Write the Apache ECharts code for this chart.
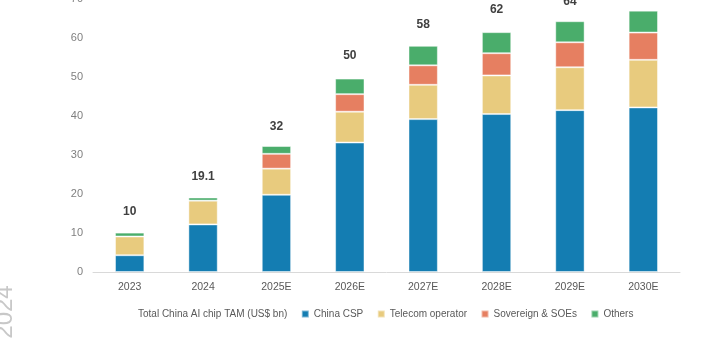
<!DOCTYPE html>
<html>
<head>
<meta charset="utf-8">
<script src="https://cdn.jsdelivr.net/npm/echarts@6/dist/echarts.min.js"></script>
<style>html,body{margin:0;padding:0;background:#fff;}#c{width:710px;height:340px;}</style>
</head>
<body>
<div id="c"></div>
<script>
const categories = ['2023', '2024', '2025E', '2026E', '2027E', '2028E', '2029E', '2030E'];
const chinaCSP   = [4.3, 12.2, 19.8, 33.2, 39.2, 40.5, 41.5, 42.2];
const telecom    = [4.8, 6.1, 6.7, 7.9, 8.8, 9.9, 11.0, 12.2];
const sovereign  = [0.0, 0.0, 3.8, 4.5, 5.0, 5.7, 6.4, 7.0];
const others     = [1.0, 0.8, 2.0, 4.0, 5.0, 5.4, 5.4, 5.6];
const totals     = [10, 19.1, 32, 50, 58, 62, 64, 67];
const totalLabels = ['10', '19.1', '32', '50', '58', '62', '64', '67'];
const yTicks = [0, 10, 20, 30, 40, 50, 60, 70];

const font = 'Liberation Sans, Arial, sans-serif';
const chart = echarts.init(document.getElementById('c'), null, {renderer: 'canvas'});
const barBorder = {borderColor: 'rgba(255,255,255,0.45)', borderWidth: 1};
function barSeries(name, data, color) {
  return {
    name: name, type: 'bar', stack: 'tam', data: data, barWidth: '40%',
    itemStyle: Object.assign({color: color}, barBorder),
    emphasis: {disabled: true}
  };
}
chart.setOption({
  animation: false,
  backgroundColor: '#ffffff',
  textStyle: {fontFamily: font},
  grid: {left: 93, right: 30, top: -1, bottom: 68, containLabel: false, outerBoundsMode: 'none'},
  graphic: [{
    type: 'text', rotation: Math.PI / 2,
    style: {text: '2024', fill: '#c8c8c8', font: '24px ' + font, textAlign: 'center', textVerticalAlign: 'middle'},
    x: 5, y: 312
  }],
  legend: {
    left: 126, top: 309, itemWidth: 7, itemHeight: 7, itemGap: 13.5, padding: 0,
    textStyle: {fontSize: 10, color: '#595959', fontFamily: font},
    data: [
      {name: 'Total China AI chip TAM (US$ bn)', icon: 'rect', itemStyle: {color: 'transparent', opacity: 0}},
      {name: 'China CSP', icon: 'rect'},
      {name: 'Telecom operator', icon: 'rect'},
      {name: 'Sovereign & SOEs', icon: 'rect'},
      {name: 'Others', icon: 'rect'}
    ]
  },
  xAxis: {
    type: 'category', data: categories,
    axisLine: {lineStyle: {color: '#d9d9d9', width: 1}},
    axisTick: {show: false},
    axisLabel: {color: '#595959', fontSize: 10.5, margin: 10, fontFamily: font}
  },
  yAxis: {
    type: 'value', min: yTicks[0], max: yTicks[yTicks.length - 1], interval: 10,
    axisLine: {show: false}, axisTick: {show: false}, splitLine: {show: false},
    axisLabel: {color: '#7f7f7f', fontSize: 11, margin: 10, fontFamily: font}
  },
  series: [
    barSeries('China CSP', chinaCSP, '#147db2'),
    barSeries('Telecom operator', telecom, '#e8cb7e'),
    barSeries('Sovereign & SOEs', sovereign, '#e67f61'),
    barSeries('Others', others, '#4aad6b'),
    {
      name: 'Total China AI chip TAM (US$ bn)', type: 'line', data: totals,
      symbol: 'circle', symbolSize: 0, showSymbol: true,
      lineStyle: {width: 0, opacity: 0}, itemStyle: {color: 'transparent'},
      label: {
        show: true, position: 'top', distance: 15,
        formatter: function (p) { return totalLabels[p.dataIndex]; },
        color: '#404040', fontSize: 12, fontWeight: 'bold', fontFamily: font
      },
      emphasis: {disabled: true}, z: 5
    }
  ]
});
</script>
</body>
</html>
